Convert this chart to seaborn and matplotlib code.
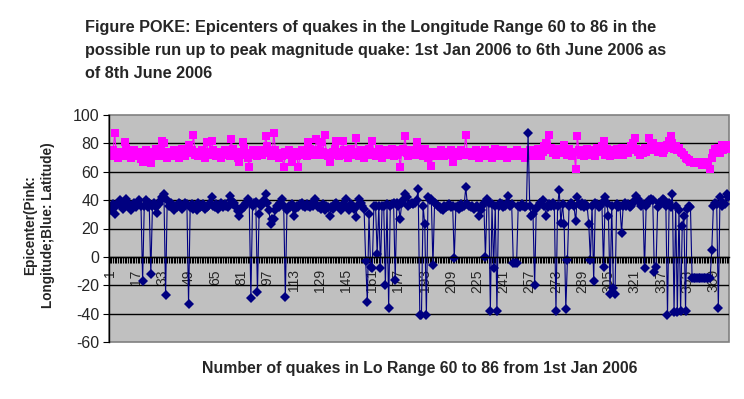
import numpy as np
import pandas as pd
import matplotlib
matplotlib.use("Agg")
import matplotlib.pyplot as plt
import seaborn as sns

# latitude of each quake (blue)
lat = [
    35, 33, 37, 30, 36, 38, 40, 36, 34, 37,
    41, 38, 35, 33, 36, 38, 35, 37, 40, 36,
    -17, 36, 40, 35, 38, -12, 36, 38, 35, 31,
    37, 40, 42, 44, -27, 40, 36, 38, 35, 33,
    36, 35, 38, 37, 34, 36, 38, 37, -33, 35,
    37, 34, 36, 33, 38, 35, 36, 37, 34, 35,
    36, 38, 42, 36, 35, 37, 34, 36, 38, 35,
    37, 36, 35, 43, 40, 37, 38, 35, 32, 29,
    33, 36, 35, 38, 41, 39, -29, 36, 38, 39,
    -25, 30, 36, 38, 40, 44, 38, 33, 23, 27,
    27, 33, 36, 35, 38, 41, 36, -28, 33, 36,
    35, 37, 29, 34, 36, 35, 37, 38, 36, 35,
    37, 36, 35, 38, 36, 41, 37, 35, 36, 34,
    37, 33, 36, 35, 29, 35, 34, 37, 38, 36,
    35, 33, 37, 36, 41, 35, 33, 37, 36, 34,
    28, 36, 41, 38, 36, 34, -3, -32, 30, -7,
    -8, 36, 36, 2, 36, -8, 36, 36, -20, 37,
    -36, 36, 37, 38, -16, 38, 36, 27, 38, 40,
    44, 42, 36, 37, 38, 37, 38, 40, 48, -41,
    -41, 36, 23, -41, 42, 40, 41, -6, 38, 37,
    36, 35, 34, 33, 36, 35, 36, 37, 35, 36,
    -1, 35, 36, 34, 37, 35, 36, 49, 37, 36,
    35, 36, 34, 35, 36, 29, 33, 36, 38, 0,
    41, 38, -38, 37, -8, 36, -38, 36, 38, 37,
    35, 36, 38, 43, 36, 37, -4, -4, -4, 36,
    35, 37, 36, 35, 36, 87, 36, 29, 30, -20,
    34, 36, 38, 37, 40, 36, 29, 35, 37, 36,
    38, 36, -38, 36, 47, 24, 37, 23, -37, -2,
    36, 38, 37, 36, 25, 42, 37, 36, 38, 35,
    37, 36, 23, -2, 36, -17, 38, 37, 35, 36,
    38, -7, 42, 38, 29, -26, 36, -22, -26, 37,
    35, 36, 17, 36, 38, 36, 37, 35, 36, 38,
    40, 43, 41, 38, 36, 37, -8, 36, 38, 40,
    41, 40, -11, -7, 35, 38, 39, 41, 40, 36,
    -41, 38, 35, 44, -39, 36, -39, 33, -38, 22,
    29, -38, 34, 36, 35, -15, -15, -15, -15, -15,
    -15, -15, -15, -15, -15, -15, -15, 5, 36, 38,
    37, -36, 42, 36, 38, 37, 44, 42,
]

# longitude of each quake (pink)
lon = [
    73, 71, 75, 87, 72, 70, 74, 73, 71, 81,
    77, 72, 74, 70, 73, 75, 71, 74, 72, 69,
    67, 72, 75, 73, 70, 66, 74, 72, 76, 73,
    71, 75, 82, 80, 72, 70, 74, 73, 71, 75,
    72, 74, 70, 73, 76, 72, 71, 74, 79, 73,
    75, 86, 72, 74, 71, 73, 75, 72, 70, 81,
    74, 72, 82, 75, 73, 71, 74, 72, 70, 73,
    75, 72, 74, 71, 83, 76, 73, 72, 70, 67,
    74, 81, 77, 72, 70, 63, 73, 75, 72, 74,
    71, 73, 75, 72, 74, 85, 78, 73, 71, 74,
    87, 75, 72, 70, 73, 71, 63, 74, 72, 75,
    73, 67, 72, 74, 71, 63, 73, 75, 72, 74,
    71, 81, 76, 73, 72, 74, 83, 75, 72, 81,
    74, 86, 73, 71, 67, 72, 74, 76, 82, 73,
    71, 74, 82, 75, 72, 70, 73, 76, 72, 74,
    84, 73, 71, 75, 72, 70, 74, 73, 76, 72,
    82, 74, 71, 73, 76, 72, 70, 74, 73, 75,
    72, 74, 76, 71, 73, 72, 75, 63, 74, 76,
    85, 73, 71, 75, 72, 74, 73, 81, 75, 72,
    74, 71, 76, 73, 70, 72, 64, 74, 73, 71,
    74, 72, 75, 73, 71, 74, 72, 73, 75, 67,
    72, 74, 71, 73, 75, 72, 74, 86, 73, 72,
    74, 71, 73, 75, 72, 70, 74, 72, 73, 75,
    71, 74, 72, 70, 73, 76, 72, 74, 71, 73,
    75, 72, 70, 74, 73, 71, 74, 72, 75, 73,
    71, 74, 72, 70, 73, 72, 75, 73, 71, 74,
    72, 76, 73, 71, 74, 78, 80, 75, 86, 77,
    73, 75, 72, 74, 76, 73, 75, 79, 74, 72,
    76, 73, 71, 74, 62, 85, 75, 72, 74, 71,
    73, 76, 72, 74, 75, 73, 71, 77, 75, 74,
    78, 82, 72, 76, 73, 71, 75, 74, 72, 76,
    73, 75, 77, 72, 74, 76, 73, 75, 78, 80,
    84, 76, 74, 72, 75, 73, 77, 74, 76, 84,
    78, 80, 75, 77, 74, 78, 76, 73, 75, 77,
    79, 82, 85, 80, 76, 78, 75, 77, 74, 73,
    72, 70, 69, 68, 67, 67, 66, 67, 66, 67,
    66, 65, 67, 66, 67, 65, 62, 70, 73, 76,
    74, 77, 73, 79, 75, 78, 76, 79,
]

yticks = [-60, -40, -20, 0, 20, 40, 60, 80, 100]
label_step = 16

n = len(lat)
quake_no = np.arange(1, n + 1)
df = pd.DataFrame({"quake": quake_no, "lon": lon, "lat": lat})

sns.set_style("white")
plt.rcParams["font.family"] = ["Liberation Sans", "DejaVu Sans"]

fig = plt.figure(figsize=(7.44, 3.99), dpi=100)
ax = fig.add_axes([109 / 744, 1 - 342 / 399, 620 / 744, 227 / 399])
ax.set_facecolor("#C0C0C0")
ax.patch.set_edgecolor("#808080")
ax.patch.set_linewidth(1.2)

sns.lineplot(data=df, x="quake", y="lon", ax=ax, color="#FF00FF",
             linewidth=0.8, marker="s", markersize=5.2,
             markeredgewidth=0, markerfacecolor="#FF00FF")
sns.lineplot(data=df, x="quake", y="lat", ax=ax, color="#000080",
             linewidth=0.8, marker="D", markersize=4.8,
             markeredgewidth=0, markerfacecolor="#000080")

ax.set_xlim(0.5, n + 0.5)
ax.set_ylim(-60, 100)
ax.set_yticks(yticks)
ax.set_yticklabels([str(v) for v in yticks], fontsize=11.5)
ax.yaxis.grid(True, color="black", linewidth=1)
ax.set_axisbelow(True)
grid = ax.get_ygridlines()
grid[0].set_visible(False)
grid[-1].set_visible(False)

major = list(range(1, n + 1, label_step))
ax.set_xticks(major)
ax.set_xticklabels([str(v) for v in major], fontsize=9)
ax.set_xticks(quake_no, minor=True)
ax.tick_params(axis="x", which="both", direction="out", length=4,
               width=0.8, color="black", pad=5, bottom=True)
ax.tick_params(axis="x", which="major", labelrotation=90)
ax.tick_params(axis="y", direction="out", length=4, width=0.8,
               color="black", pad=3, left=True)

for s in ["top", "right"]:
    ax.spines[s].set_visible(False)
ax.spines["left"].set_color("black")
ax.spines["left"].set_linewidth(1)
ax.spines["bottom"].set_position(("data", 0))
ax.spines["bottom"].set_color("black")
ax.spines["bottom"].set_linewidth(1)
ax.set_xlabel("")
ax.set_ylabel("")

title = ("Figure POKE: Epicenters of quakes in the Longitude Range 60 to 86 in the\n"
         "possible run up to peak magnitude quake: 1st Jan 2006 to 6th June 2006 as\n"
         "of 8th June 2006")
fig.text(85 / 744, 1 - 20 / 399, title, ha="left", va="top",
         fontsize=11.7, fontweight="bold", linespacing=1.65)
fig.text(39 / 744, 1 - 225 / 399, "Epicenter(Pink:\nLongitude;Blue: Latitude)",
         rotation=90, ha="center", va="center", multialignment="center",
         fontsize=9.8, fontweight="bold", linespacing=1.4)
fig.text(420 / 744, 1 - 369 / 399,
         "Number of quakes in Lo Range 60 to 86 from 1st Jan 2006",
         ha="center", va="center", fontsize=11.4, fontweight="bold")

fig.savefig("out.png", dpi=100, facecolor="white")
